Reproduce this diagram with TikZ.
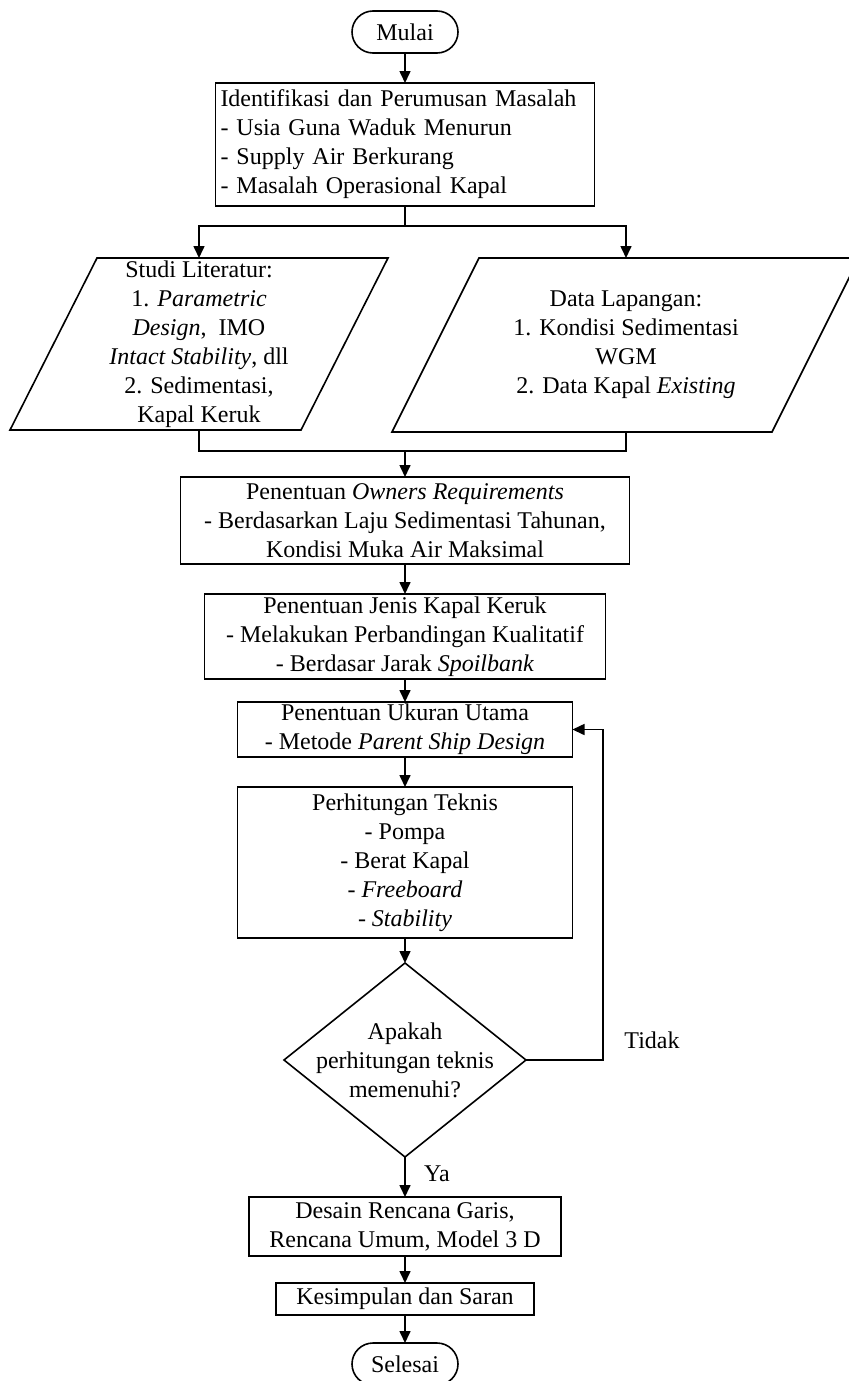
\documentclass[tikz,border=0pt]{standalone}
\usepackage{fontspec}
\setmainfont{Liberation Serif}
\usetikzlibrary{shapes.geometric,arrows.meta}
\tikzstyle{base}=[font=\fontsize{12}{14.5}\selectfont,inner sep=0pt,outer sep=0pt]
\tikzstyle{process}=[base,draw,rectangle,align=center]
\tikzstyle{startstop}=[base,draw,rectangle,rounded corners=10.5pt,minimum width=53pt,minimum height=21pt]
\tikzstyle{io}=[base,align=center]
\tikzstyle{decision}=[base,draw,diamond,minimum width=121pt,minimum height=97pt]
\tikzstyle{arrow}=[-{Triangle[width=5.5pt,length=6pt]}]
\newcommand{\procbox}[6]{% Syntax: {name}{center x}{center y}{width}{height}{text}
	\node[process,minimum width=#4,minimum height=#5] (#1) at (#2,#3) {#6};
}
\newcommand{\slantframe}[5]{% Syntax: {top y}{bottom y}{top left x}{top right x}{slant}
	\draw (#3,#1) -- (#4,#1) -- (#4-#5,#2) -- (#3-#5,#2) -- cycle;
}
\begin{document}
\begin{tikzpicture}[x=0.5pt,y=-0.5pt,line width=0.8pt]
	\useasboundingbox (0,0) rectangle (849,1381);
	% start
	\node[startstop] (mulai) at (405,32) {Mulai};
	\node[process,align=left,text width=184.5pt,inner xsep=2.5pt,minimum height=61.5pt] (ident) at (405,144.5)
		{Identifikasi dan Perumusan Masalah\\- Usia Guna Waduk Menurun\\- Supply Air Berkurang\\- Masalah Operasional Kapal};
	% inputs
	\slantframe{258}{430}{97}{388}{87}
	\node[io,minimum height=86pt] (lit) at (199,344)
		{Studi Literatur:\\1. \textit{Parametric}\\\textit{Design}, \ IMO\\\textit{Intact Stability}, dll\\2. Sedimentasi,\\Kapal Keruk};
	\slantframe{258}{432}{479}{859}{87}
	\node[io,minimum height=87pt] (data) at (626,345)
		{Data Lapangan:\\1. Kondisi Sedimentasi\\WGM\\2. Data Kapal \textit{Existing}};
	\coordinate (split) at (405,226);
	\coordinate (merge) at (405,451);
	% steps
	\procbox{owner}{405}{520.5}{224.5pt}{43.5pt}{Penentuan \textit{Owners Requirements}\\- Berdasarkan Laju Sedimentasi Tahunan,\\Kondisi Muka Air Maksimal}
	\procbox{jenis}{405}{636.5}{200.5pt}{42.5pt}{Penentuan Jenis Kapal Keruk\\- Melakukan Perbandingan Kualitatif\\- Berdasar Jarak \textit{Spoilbank}}
	\procbox{ukuran}{405}{729.5}{167.5pt}{27.5pt}{Penentuan Ukuran Utama\\- Metode \textit{Parent Ship Design}}
	\procbox{hitung}{405}{862.5}{167.5pt}{75.5pt}{Perhitungan Teknis\\- Pompa\\- Berat Kapal\\\textit{- Freeboard}\\\textit{- Stability}}
	\node[decision] (cek) at (405,1060) {};
	\node[base,align=center] (cektext) at (cek.center) {Apakah\\perhitungan teknis\\memenuhi?};
	\coordinate (back) at (603,1060);
	\procbox{desain}{405}{1226.5}{156pt}{29.5pt}{Desain Rencana Garis,\\Rencana Umum, Model 3 D}
	\procbox{simpul}{405}{1299}{129pt}{16pt}{Kesimpulan dan Saran}
	\node[startstop] (selesai) at (405,1364) {Selesai};
	% labels
	\node[base] (tidak) at (652,1040) {Tidak};
	\node[base] (ya) at (437,1174) {Ya};
	% connectors
	\draw[arrow] (mulai) -- (ident);
	\draw (ident.south) -- (split);
	\draw[arrow] (split) -| (lit.north);
	\draw[arrow] (split) -| (data.north);
	\draw (lit.south) |- (merge);
	\draw (data.south) |- (merge);
	\draw[arrow] (merge) -- (owner.north);
	\draw[arrow] (owner) -- (jenis);
	\draw[arrow] (jenis) -- (ukuran);
	\draw[arrow] (ukuran) -- (hitung);
	\draw[arrow] (hitung) -- (cek);
	\draw[arrow] (cek.east) -- (back) |- (ukuran.east);
	\draw[arrow] (cek) -- (desain);
	\draw[arrow] (desain) -- (simpul);
	\draw[arrow] (simpul) -- (selesai);
\end{tikzpicture}
\end{document}
